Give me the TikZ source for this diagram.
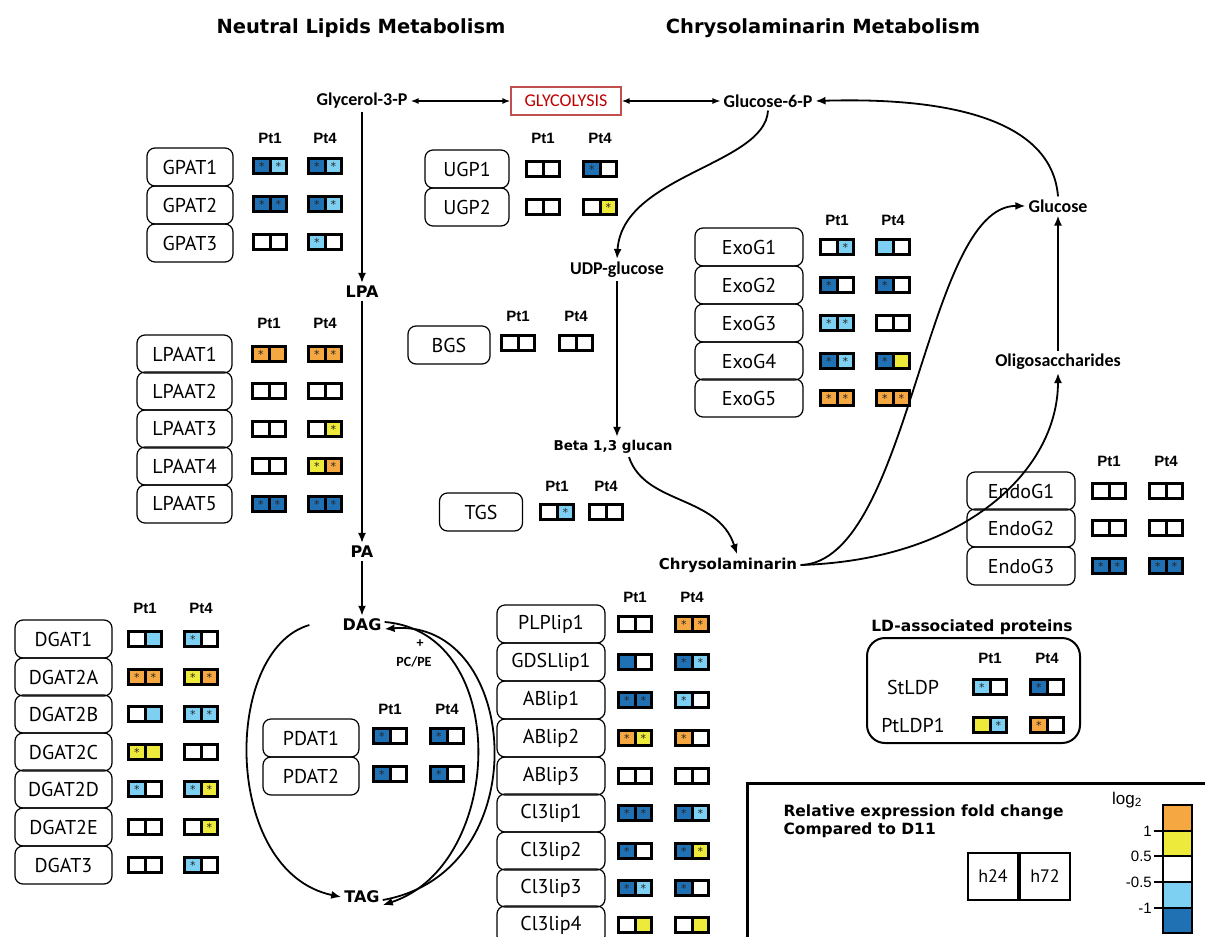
\documentclass[tikz,border=0pt]{standalone}
\usepackage{fontspec}
\setmainfont{PT Sans}
\newfontfamily\carl{Carlito}
\newfontfamily\dvs{DejaVu Sans}
\newfontfamily\lib{Liberation Sans}
\usetikzlibrary{arrows.meta}
\definecolor{cO}{HTML}{F5A742}
\definecolor{cY}{HTML}{EDEA3B}
\definecolor{cL}{HTML}{7DD0F2}
\definecolor{cD}{HTML}{2070B4}
\colorlet{cW}{white}
\definecolor{glyred}{HTML}{C00000}
\definecolor{glyframe}{HTML}{C0504D}
\tikzset{
 gbox/.style={draw, rounded corners=8pt, line width=1.2pt, minimum height=38pt, inner sep=0pt, font=\fontsize{20}{20}\selectfont},
 cell/.style={minimum width=16.5pt, minimum height=15pt, inner sep=0pt, font=\dvs\fontsize{11}{11}\selectfont, text=black!85},
 frame/.style={line width=3pt},
 hdr/.style={font=\lib\bfseries\fontsize{15}{15}\selectfont, inner sep=0pt},
 met/.style={font=\carl\bfseries\fontsize{18}{18}\selectfont, inner sep=3pt},
 big/.style={font=\dvs\bfseries\fontsize{16}{16}\selectfont, inner sep=3pt},
 ttl/.style={font=\dvs\bfseries\fontsize{19.5}{19.5}\selectfont},
 arr/.style={line width=1.8pt, -{Latex[length=10pt,width=8pt]}},
 darr/.style={line width=1.4pt, {Latex[length=8pt,width=6pt]}-{Latex[length=8pt,width=6pt]}},
}
\newcommand\st{\raisebox{-2.3pt}{*}}
\newcommand\gene[3]{\node[gbox,minimum width=\gw pt] (#1) at (\gx,#3) {#2};}
\newcommand\hdrs[2]{\node[hdr] (#1-h1) at (\xa,#2) {Pt1}; \node[hdr] (#1-h4) at (\xb,#2) {Pt4};}
\newcommand\hp[7]{%
  \node[cell,fill=#4] (#1a) at ({#2-8.25},#3) {#5};
  \node[cell,fill=#6] (#1b) at ({#2+8.25},#3) {#7};
  \draw[frame] (#1a.north west) rectangle (#1b.south east);
  \draw[frame] (#1a.north east) -- (#1a.south east);}
\begin{document}
\begin{tikzpicture}[x=1pt,y=-1pt]
\fill[white] (0,0) rectangle (1205,937);
\path[use as bounding box] (0,0) rectangle (1205,937);

% titles
\node[ttl] (t1) at (361,28) {Neutral Lipids Metabolism};
\node[ttl] (t2) at (823,28) {Chrysolaminarin Metabolism};

% metabolites
\node[met] (g3p) at (362,101) {Glycerol-3-P};
\node[draw=glyframe, line width=1.2pt, minimum width=110pt, minimum height=28pt, inner sep=0pt, text=glyred, font=\carl\fontsize{18}{18}\selectfont] (glyc) at (566,101) {GLYCOLYSIS};
\node[met] (g6p) at (768,101) {Glucose-6-P};
\node[big] (lpa) at (362,292) {LPA};
\node[big] (pa) at (362,552) {PA};
\node[big] (dag) at (362,625) {DAG};
\node[big] (tag) at (362,897) {TAG};
\node[font=\carl\bfseries\fontsize{14}{14}\selectfont] (plus) at (420,644) {+};
\node[font=\carl\bfseries\fontsize{14}{14}\selectfont] (pcpe) at (414,662) {PC/PE};
\node[met] (udpg) at (617,270) {UDP-glucose};
\node[font=\dvs\bfseries\fontsize{13.5}{13.5}\selectfont] (beta) at (613,447) {Beta 1,3 glucan};
\node[font=\dvs\bfseries\fontsize{15}{15}\selectfont] (chrys) at (728,565) {Chrysolaminarin};
\node[met] (glucose) at (1058,206) {Glucose};
\node[met] (oligo) at (1058,362) {Oligosaccharides};

% connectors
\draw[darr] (g3p) -- (glyc);
\draw[darr] (glyc) -- (g6p);
\draw[arr] (g3p.south) -- (lpa.north);
\draw[arr] (lpa.south) -- (pa.north);
\draw[arr] (pa.south) -- (dag.north);
\draw[arr] (g6p.south) .. controls (765,165) and (622,175) .. (udpg.north);
\draw[arr] (udpg.south) -- (udpg.south |- beta.north);
\draw[arr] ([xshift=16pt]beta.south) .. controls (645,505) and (718,495) .. ([xshift=9pt]chrys.north);
\draw[arr] (chrys.east) .. controls (910,562) and (925,205) .. (glucose.west);
\draw[arr] (chrys.east) .. controls (965,560) and (1058,470) .. (oligo.south);
\draw[arr] (oligo.north) -- (glucose.south);
\draw[arr] (glucose.north) .. controls (1052,120) and (950,97) .. (g6p.east);
\draw[arr] ([xshift=-30pt]dag.west) .. controls (222,650) and (222,872) .. (tag.west);
\draw[arr] ([yshift=-3pt]tag.east) .. controls (540,872) and (520,618) .. ([yshift=-4pt]dag.east);
\draw[arr] ([yshift=3pt]dag.east) .. controls (512,632) and (505,865) .. ([yshift=-8pt]tag.east);

% GPAT
\def\gx{190}\def\gw{86}\def\xa{270}\def\xb{325}
\hdrs{gpat}{138}
\gene{GPAT1}{GPAT1}{167}\hp{GPAT1-1}{\xa}{166}{cD}{\st}{cL}{\st}\hp{GPAT1-4}{\xb}{166}{cD}{\st}{cL}{\st}
\gene{GPAT2}{GPAT2}{205}\hp{GPAT2-1}{\xa}{204}{cD}{\st}{cD}{\st}\hp{GPAT2-4}{\xb}{204}{cD}{\st}{cL}{\st}
\gene{GPAT3}{GPAT3}{243}\hp{GPAT3-1}{\xa}{242}{cW}{}{cW}{}\hp{GPAT3-4}{\xb}{242}{cL}{\st}{cW}{}

% UGP
\def\gx{467}\def\gw{84}\def\xa{543}\def\xb{600}
\hdrs{ugp}{138}
\gene{UGP1}{UGP1}{169}\hp{UGP1-1}{\xa}{169}{cW}{}{cW}{}\hp{UGP1-4}{\xb}{169}{cD}{\st}{cW}{}
\gene{UGP2}{UGP2}{207}\hp{UGP2-1}{\xa}{207}{cW}{}{cW}{}\hp{UGP2-4}{\xb}{207}{cW}{}{cY}{\st}

% LPAAT
\def\gx{184.5}\def\gw{95}\def\xa{269}\def\xb{325}
\hdrs{lpaat}{323}
\gene{LPAAT1}{LPAAT1}{354}\hp{LPAAT1-1}{\xa}{354}{cO}{\st}{cO}{}\hp{LPAAT1-4}{\xb}{354}{cO}{\st}{cO}{\st}
\gene{LPAAT2}{LPAAT2}{391}\hp{LPAAT2-1}{\xa}{391}{cW}{}{cW}{}\hp{LPAAT2-4}{\xb}{391}{cW}{}{cW}{}
\gene{LPAAT3}{LPAAT3}{429}\hp{LPAAT3-1}{\xa}{429}{cW}{}{cW}{}\hp{LPAAT3-4}{\xb}{429}{cW}{}{cY}{\st}
\gene{LPAAT4}{LPAAT4}{466}\hp{LPAAT4-1}{\xa}{466}{cW}{}{cW}{}\hp{LPAAT4-4}{\xb}{466}{cY}{\st}{cO}{\st}
\gene{LPAAT5}{LPAAT5}{504}\hp{LPAAT5-1}{\xa}{504}{cD}{\st}{cD}{\st}\hp{LPAAT5-4}{\xb}{504}{cD}{\st}{cD}{\st}

% BGS
\def\gx{449}\def\gw{82}\def\xa{518}\def\xb{576}
\hdrs{bgs}{316}
\gene{BGS}{BGS}{345}\hp{BGS-1}{\xa}{343}{cW}{}{cW}{}\hp{BGS-4}{\xb}{343}{cW}{}{cW}{}

% TGS
\def\gx{481}\def\gw{83}\def\xa{557}\def\xb{606}
\hdrs{tgs}{486}
\gene{TGS}{TGS}{512}\hp{TGS-1}{\xa}{512}{cW}{}{cL}{\st}\hp{TGS-4}{\xb}{512}{cW}{}{cW}{}

% ExoG
\def\gx{749}\def\gw{108}\def\xa{837}\def\xb{893}
\hdrs{exog}{220}
\gene{ExoG1}{ExoG1}{247}\hp{ExoG1-1}{\xa}{247}{cW}{}{cL}{\st}\hp{ExoG1-4}{\xb}{247}{cL}{}{cW}{}
\gene{ExoG2}{ExoG2}{285}\hp{ExoG2-1}{\xa}{285}{cD}{\st}{cW}{}\hp{ExoG2-4}{\xb}{285}{cD}{\st}{cW}{}
\gene{ExoG3}{ExoG3}{323}\hp{ExoG3-1}{\xa}{323}{cL}{\st}{cL}{\st}\hp{ExoG3-4}{\xb}{323}{cW}{}{cW}{}
\gene{ExoG4}{ExoG4}{361}\hp{ExoG4-1}{\xa}{361}{cD}{\st}{cL}{\st}\hp{ExoG4-4}{\xb}{361}{cD}{\st}{cY}{}
\gene{ExoG5}{ExoG5}{398}\hp{ExoG5-1}{\xa}{398}{cO}{\st}{cO}{\st}\hp{ExoG5-4}{\xb}{398}{cO}{\st}{cO}{\st}

% EndoG
\def\gx{1021}\def\gw{108}\def\xa{1109}\def\xb{1166}
\hdrs{endog}{461}
\gene{EndoG1}{EndoG1}{491}\hp{EndoG1-1}{\xa}{491}{cW}{}{cW}{}\hp{EndoG1-4}{\xb}{491}{cW}{}{cW}{}
\gene{EndoG2}{EndoG2}{528}\hp{EndoG2-1}{\xa}{528}{cW}{}{cW}{}\hp{EndoG2-4}{\xb}{528}{cW}{}{cW}{}
\gene{EndoG3}{EndoG3}{566}\hp{EndoG3-1}{\xa}{566}{cD}{\st}{cD}{\st}\hp{EndoG3-4}{\xb}{566}{cD}{\st}{cD}{\st}

% DGAT
\def\gx{63.5}\def\gw{97}\def\xa{145}\def\xb{201}
\hdrs{dgat}{608}
\gene{DGAT1}{DGAT1}{639}\hp{DGAT1-1}{\xa}{639}{cW}{}{cL}{}\hp{DGAT1-4}{\xb}{639}{cL}{\st}{cW}{}
\gene{DGAT2A}{DGAT2A}{677}\hp{DGAT2A-1}{\xa}{677}{cO}{\st}{cO}{\st}\hp{DGAT2A-4}{\xb}{677}{cY}{\st}{cO}{\st}
\gene{DGAT2B}{DGAT2B}{714}\hp{DGAT2B-1}{\xa}{714}{cW}{}{cL}{}\hp{DGAT2B-4}{\xb}{714}{cL}{\st}{cL}{\st}
\gene{DGAT2C}{DGAT2C}{752}\hp{DGAT2C-1}{\xa}{752}{cY}{\st}{cY}{}\hp{DGAT2C-4}{\xb}{752}{cW}{}{cW}{}
\gene{DGAT2D}{DGAT2D}{789}\hp{DGAT2D-1}{\xa}{789}{cL}{\st}{cW}{}\hp{DGAT2D-4}{\xb}{789}{cL}{\st}{cY}{\st}
\gene{DGAT2E}{DGAT2E}{827}\hp{DGAT2E-1}{\xa}{827}{cW}{}{cW}{}\hp{DGAT2E-4}{\xb}{827}{cW}{}{cY}{\st}
\gene{DGAT3}{DGAT3}{865}\hp{DGAT3-1}{\xa}{865}{cW}{}{cW}{}\hp{DGAT3-4}{\xb}{865}{cL}{\st}{cW}{}

% PDAT
\def\gx{311}\def\gw{96}\def\xa{390}\def\xb{447}
\hdrs{pdat}{709}
\gene{PDAT1}{PDAT1}{738}\hp{PDAT1-1}{\xa}{736}{cD}{\st}{cW}{}\hp{PDAT1-4}{\xb}{736}{cD}{\st}{cW}{}
\gene{PDAT2}{PDAT2}{776}\hp{PDAT2-1}{\xa}{774}{cD}{\st}{cW}{}\hp{PDAT2-4}{\xb}{774}{cD}{\st}{cW}{}

% Lipases
\def\gx{551}\def\gw{108}\def\xa{635}\def\xb{692}
\hdrs{lip}{597}
\gene{PLPlip1}{PLPlip1}{624}\hp{PLPlip1-1}{\xa}{624}{cW}{}{cW}{}\hp{PLPlip1-4}{\xb}{624}{cO}{\st}{cO}{\st}
\gene{GDSLlip1}{GDSLlip1}{662}\hp{GDSLlip1-1}{\xa}{662}{cD}{}{cW}{}\hp{GDSLlip1-4}{\xb}{662}{cD}{\st}{cL}{\st}
\gene{ABlip1}{ABlip1}{700}\hp{ABlip1-1}{\xa}{700}{cD}{\st}{cD}{\st}\hp{ABlip1-4}{\xb}{700}{cL}{\st}{cW}{}
\gene{ABlip2}{ABlip2}{738}\hp{ABlip2-1}{\xa}{738}{cO}{\st}{cY}{\st}\hp{ABlip2-4}{\xb}{738}{cO}{\st}{cW}{}
\gene{ABlip3}{ABlip3}{776}\hp{ABlip3-1}{\xa}{776}{cW}{}{cW}{}\hp{ABlip3-4}{\xb}{776}{cW}{}{cW}{}
\gene{Cl3lip1}{Cl3lip1}{813}\hp{Cl3lip1-1}{\xa}{813}{cD}{\st}{cD}{\st}\hp{Cl3lip1-4}{\xb}{813}{cD}{\st}{cL}{\st}
\gene{Cl3lip2}{Cl3lip2}{851}\hp{Cl3lip2-1}{\xa}{851}{cD}{\st}{cW}{}\hp{Cl3lip2-4}{\xb}{851}{cD}{\st}{cY}{\st}
\gene{Cl3lip3}{Cl3lip3}{888}\hp{Cl3lip3-1}{\xa}{888}{cD}{\st}{cL}{\st}\hp{Cl3lip3-4}{\xb}{888}{cD}{\st}{cW}{}
\gene{Cl3lip4}{Cl3lip4}{925}\hp{Cl3lip4-1}{\xa}{925}{cW}{}{cY}{}\hp{Cl3lip4-4}{\xb}{925}{cW}{}{cY}{}

% LD-associated proteins
\node[font=\dvs\bfseries\fontsize{15.5}{15.5}\selectfont] (ldt) at (972,627) {LD-associated proteins};
\draw[line width=2pt, rounded corners=18pt] (867,638) rectangle (1080,743);
\def\xa{990}\def\xb{1047}
\hdrs{ld}{658}
\node[font=\fontsize{20}{20}\selectfont] (StLDP) at (913,687) {StLDP};
\node[font=\fontsize{20}{20}\selectfont] (PtLDP1) at (913,725) {PtLDP1};
\hp{StLDP-1}{\xa}{687}{cL}{\st}{cW}{}\hp{StLDP-4}{\xb}{687}{cD}{\st}{cW}{}
\hp{PtLDP1-1}{\xa}{725}{cY}{}{cL}{\st}\hp{PtLDP1-4}{\xb}{725}{cO}{\st}{cW}{}

% legend
\draw[line width=3pt] (1206,783) -- (747,783) -- (747,938);
\node[anchor=west, align=left, font=\dvs\bfseries\fontsize{15.5}{18}\selectfont] (legt) at (780,821) {Relative expression fold change\\Compared to D11};
\node[draw, line width=2pt, minimum width=50pt, minimum height=47pt, inner sep=0pt, font=\fontsize{18}{18}\selectfont] (h24) at (993,876) {h24};
\node[draw, line width=2pt, minimum width=50pt, minimum height=47pt, inner sep=0pt, font=\fontsize{18}{18}\selectfont, anchor=west] (h72) at (h24.east) {h72};
\fill[cO] (1163,805) rectangle (1192,831);
\fill[cY] (1163,831) rectangle (1192,856);
\fill[cL] (1163,882) rectangle (1192,908);
\fill[cD] (1163,908) rectangle (1192,933);
\draw[line width=2.5pt] (1163,805) rectangle (1192,933);
\foreach \yy/\lab in {831/1, 856/0.5, 882/-0.5, 908/-1}{
  \draw[line width=2pt] (1154,\yy) -- (1192,\yy);
  \node[anchor=east, inner sep=1pt, font=\lib\fontsize{15}{15}\selectfont] (tick\lab) at (1153,\yy) {\lab};
}
\node[font=\lib\fontsize{17}{17}\selectfont] (log) at (1127,800) {log\textsubscript{2}};
\end{tikzpicture}
\end{document}
